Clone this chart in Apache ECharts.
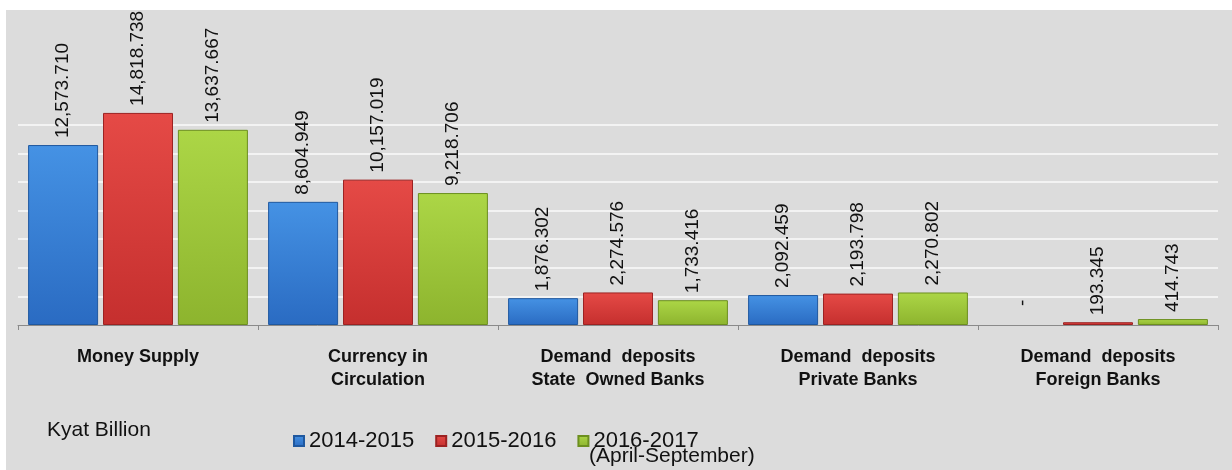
<!DOCTYPE html>
<html>
<head>
<meta charset="utf-8">
<title>Money Supply</title>
<script src="https://cdn.jsdelivr.net/npm/echarts@6/dist/echarts.min.js"></script>
<style>
  html, body { margin: 0; padding: 0; background: #ffffff; }
  #chart { width: 1232px; height: 470px; }
</style>
</head>
<body>
<div id="chart"></div>
<script>
// Categories along the x axis
const categories = [
  'Money Supply',
  'Currency in\nCirculation',
  'Demand  deposits\nState  Owned Banks',
  'Demand  deposits\nPrivate Banks',
  'Demand  deposits\nForeign Banks'
];

// Fiscal periods (series)
const seriesNames = ['2014-2015', '2015-2016', '2016-2017'];
const periodNote = '(April-September)';
const unitLabel = 'Kyat Billion';

// Values in Kyat Billion (0 = no figure, shown as "-")
const values2014 = [12573.710, 8604.949, 1876.302, 2092.459, 0];
const values2015 = [14818.738, 10157.019, 2274.576, 2193.798, 193.345];
const values2016 = [13637.667, 9218.706, 1733.416, 2270.802, 414.743];

// Hidden value axis scale
const yMax = 16000;
const yStep = 2000;

const palette = [
  { top: '#4592e4', bottom: '#2a6bc2', border: '#1f589f' },
  { top: '#e54a46', bottom: '#c52f2e', border: '#9c2222' },
  { top: '#acd646', bottom: '#8db42e', border: '#6c8f1f' }
];

function formatValue(v) {
  if (v === 0) return '-';
  const parts = v.toFixed(3).split('.');
  return parts[0].replace(/\B(?=(\d{3})+(?!\d))/g, ',') + '.' + parts[1];
}

function buildData(values) {
  return values.map(function (v) {
    if (v === 0) {
      return { value: v, label: { distance: 19 }, itemStyle: { borderWidth: 0 } };
    }
    return v;
  });
}

const seriesValues = [values2014, values2015, values2016];

const series = seriesNames.map(function (name, i) {
  const c = palette[i];
  return {
    name: name,
    type: 'bar',
    barWidth: 70,
    barGap: '7%',
    data: buildData(seriesValues[i]),
    itemStyle: {
      color: new echarts.graphic.LinearGradient(0, 0, 0, 1, [
        { offset: 0, color: c.top },
        { offset: 1, color: c.bottom }
      ]),
      borderColor: c.border,
      borderWidth: 1
    },
    label: {
      show: true,
      position: 'top',
      rotate: 90,
      align: 'left',
      verticalAlign: 'middle',
      distance: 7,
      fontSize: 19,
      fontFamily: 'Liberation Sans, Arial, sans-serif',
      color: '#111111',
      formatter: function (p) { return formatValue(p.value); }
    }
  };
});

const chart = echarts.init(document.getElementById('chart'));

chart.setOption({
  backgroundColor: '#dcdcdc',
  animation: false,
  grid: { left: 18, right: 14, top: 96, bottom: 145 },
  legend: {
    data: seriesNames,
    left: 288,
    top: 425,
    icon: 'rect',
    itemWidth: 10,
    itemHeight: 10,
    itemGap: 21,
    textStyle: {
      fontSize: 22,
      fontFamily: 'Liberation Sans, Arial, sans-serif',
      color: '#111111'
    }
  },
  xAxis: {
    type: 'category',
    data: categories,
    axisLine: { lineStyle: { color: '#8a8a8a', width: 1 } },
    axisTick: { show: true, length: 5, lineStyle: { color: '#8a8a8a' } },
    axisLabel: {
      interval: 0,
      margin: 21,
      fontSize: 18,
      lineHeight: 23,
      fontWeight: 'bold',
      fontFamily: 'Liberation Sans, Arial, sans-serif',
      color: '#111111'
    }
  },
  yAxis: {
    type: 'value',
    min: 0,
    max: yMax,
    interval: yStep,
    axisLabel: { show: false },
    axisLine: { show: false },
    axisTick: { show: false },
    splitLine: {
      show: true,
      showMinLine: false,
      showMaxLine: false,
      lineStyle: { color: '#f3f3f3', width: 2 }
    }
  },
  graphic: [
    { type: 'rect', left: 0, top: 0, shape: { width: 1232, height: 10 }, style: { fill: '#ffffff' }, z: 100 },
    { type: 'rect', left: 0, top: 0, shape: { width: 6, height: 470 }, style: { fill: '#ffffff' }, z: 100 },
    {
      type: 'text', left: 47, top: 420,
      style: { text: unitLabel, fontSize: 21, fontFamily: 'Liberation Sans, Arial, sans-serif', fill: '#111111' }
    },
    {
      type: 'text', left: 589, top: 446,
      style: { text: periodNote, fontSize: 21, fontFamily: 'Liberation Sans, Arial, sans-serif', fill: '#111111' }
    }
  ],
  series: series
});
</script>
</body>
</html>
